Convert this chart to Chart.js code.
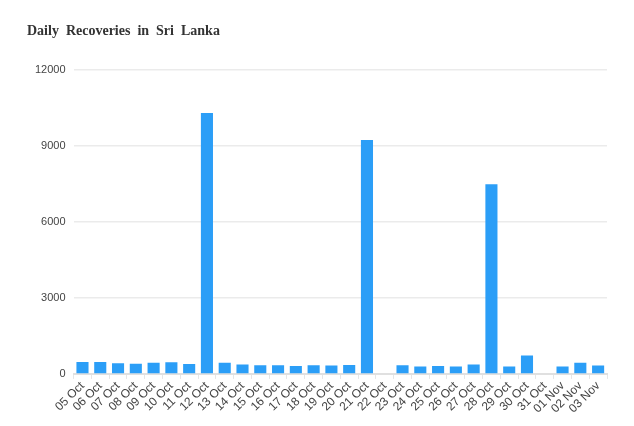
<!DOCTYPE html>
<html>
<head>
<meta charset="utf-8">
<script src="https://cdn.jsdelivr.net/npm/chart.js@4/dist/chart.umd.min.js"></script>
<style>
  html, body { margin: 0; padding: 0; background: #fff; }
  #wrap { width: 634px; height: 426px; }
</style>
</head>
<body>
<div id="wrap"><canvas id="recoveriesChart" width="634" height="426"></canvas></div>
<script>
const dayLabels = ["05 Oct", "06 Oct", "07 Oct", "08 Oct", "09 Oct", "10 Oct", "11 Oct", "12 Oct", "13 Oct", "14 Oct",
  "15 Oct", "16 Oct", "17 Oct", "18 Oct", "19 Oct", "20 Oct", "21 Oct", "22 Oct", "23 Oct", "24 Oct",
  "25 Oct", "26 Oct", "27 Oct", "28 Oct", "29 Oct", "30 Oct", "31 Oct", "01 Nov", "02 Nov", "03 Nov"];

const recoveries = [475, 475, 420, 400, 440, 460, 390, 10300, 440, 370,
  345, 345, 317, 345, 330, 356, 9230, 0, 345, 290,
  317, 290, 370, 7480, 290, 726, 0, 290, 440, 330];

const yTicks = [0, 3000, 6000, 9000, 12000];

const config = {
  type: "bar",
  data: {
    labels: dayLabels,
    datasets: [
      {
        data: recoveries,
        backgroundColor: "#2b9ef7",
        borderWidth: 0,
        barPercentage: 0.68,
        categoryPercentage: 1,
      },
    ],
  },
  options: {
    responsive: false,
    animation: false,
    layout: { padding: { left: 27, right: 27, top: 21, bottom: 10 } },
    plugins: {
      legend: { display: false },
      tooltip: { enabled: false },
      title: {
        display: true,
        text: "Daily  Recoveries  in  Sri  Lanka",
        align: "start",
        color: "#333",
        font: { family: "Liberation Serif", size: 14, weight: "bold" },
        padding: { top: 2, bottom: 30 },
      },
    },
    scales: {
      x: {
        offset: true,
        grid: { display: true, drawOnChartArea: false, drawTicks: true, tickLength: 5, color: "#e6e6e6", lineWidth: 1 },
        border: { color: "#e0e0e0", width: 2 },
        ticks: {
          autoSkip: false,
          maxRotation: 45,
          minRotation: 45,
          color: "#444",
          padding: 0,
          font: { family: "Liberation Sans", size: 12 },
        },
      },
      y: {
        min: 0,
        max: 12000,
        afterBuildTicks: (axis) => { axis.ticks = yTicks.map((v) => ({ value: v })); },
        grid: { color: "#ebebeb", lineWidth: 1.5, drawTicks: false },
        border: { display: false },
        ticks: {
          color: "#444",
          padding: 8,
          font: { family: "Liberation Sans", size: 11 },
          callback: (v) => String(v),
        },
      },
    },
  },
};

new Chart(document.getElementById("recoveriesChart").getContext("2d"), config);
</script>
</body>
</html>
